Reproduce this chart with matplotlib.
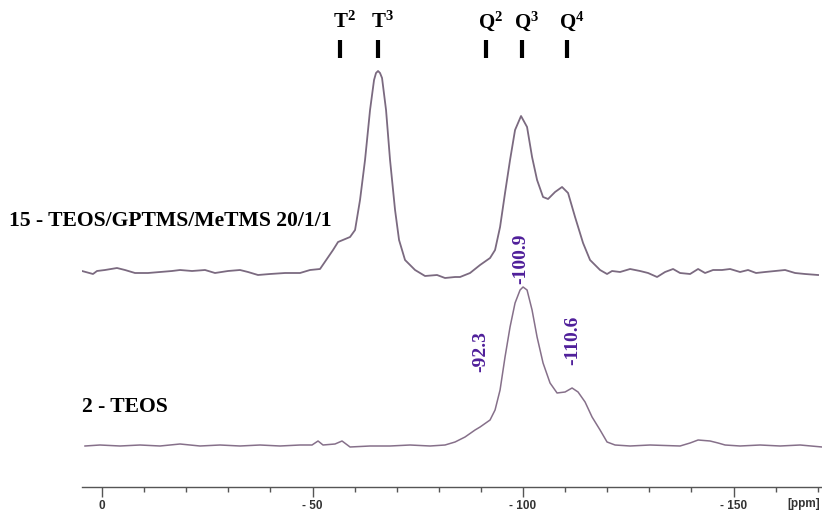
import matplotlib
matplotlib.use("Agg")
import matplotlib.pyplot as plt
import numpy as np

plt.rcParams["mathtext.fontset"] = "custom"
plt.rcParams["mathtext.rm"] = "Liberation Serif:bold"
plt.rcParams["mathtext.bf"] = "Liberation Serif:bold"
plt.rcParams["mathtext.it"] = "Liberation Serif:bold"

# ── data (29Si shift in ppm, intensity in a.u. above each baseline) ──
top_ppm = [4.75, 2.14, 1.19, -0.71, -3.56, -5.46, -7.84, -10.93, -13.78, -16.63, -18.53, -21.38,
           -24.47, -26.84, -29.93, -32.78, -34.68, -37.05, -39.90, -43.47, -47.03, -49.41, -51.78,
           -54.87, -56.06, -58.91, -60.10, -61.28, -62.47, -63.66, -64.61, -65.08, -65.56, -66.03,
           -66.51, -67.46, -68.41, -69.60, -70.55, -71.97, -74.35, -76.72, -79.57, -81.47, -83.85,
           -85.04, -87.41, -89.79, -92.16, -93.35, -94.54, -95.72, -96.91, -98.10, -99.52, -100.95,
           -102.14, -103.33, -104.75, -105.94, -107.60, -109.26, -110.69, -112.35, -114.25, -115.91,
           -118.29, -119.95, -121.14, -123.04, -125.42, -127.79, -129.69, -131.83, -133.73, -135.63,
           -137.29, -139.67, -141.57, -143.23, -145.13, -147.27, -149.17, -151.54, -153.44, -155.34,
           -157.48, -159.86, -162.23, -164.61, -166.98, -170.07]
top_int = [1, -2, 1, 2, 4, 2, -1, -1, 0, 1, 2, 1,
           2, -1, 1, 2, 0, -3, -2, -1, -1, 2, 3,
           22, 30, 35, 42, 72, 112, 162, 192, 199, 201, 199,
           194, 162, 112, 62, 32, 12, 2, -4, -3, -6, -5,
           -5, -1, 7, 14, 22, 45, 79, 112, 142, 156, 145,
           115, 92, 75, 73, 80, 85, 79, 55, 29, 12,
           2, -2, 1, 0, 3, 1, -1, -5, 0, 3,
           -1, -2, 3, -1, 2, 2, 3, 0, 2, -1,
           0, 1, 2, -1, -2, -3]

bot_ppm = [4.04, 0.48, -4.28, -9.03, -13.78, -18.53, -23.28, -28.03, -32.78, -37.53, -42.28, -47.03,
           -49.88, -51.31, -52.49, -55.34, -57.01, -58.91, -63.66, -68.41, -73.16, -77.91, -81.47,
           -83.85, -86.22, -88.60, -89.79, -92.16, -93.35, -94.54, -95.72, -96.91, -98.10, -99.29,
           -100.00, -100.95, -102.14, -103.33, -104.75, -106.41, -108.08, -109.98, -111.64, -113.06,
           -114.73, -116.39, -118.29, -119.95, -121.85, -125.42, -130.17, -137.29, -139.67, -141.57,
           -144.42, -146.32, -147.98, -151.54, -156.29, -161.05, -165.80, -171.02]
bot_int = [0, 1, 0, 1, 0, 2, 0, 1, 0, 1, 0, 1,
           1, 5, 1, 2, 5, -1, 0, 0, 1, 0, 1,
           4, 9, 16, 19, 26, 36, 56, 89, 119, 143, 156,
           159, 156, 136, 109, 83, 63, 53, 54, 58, 54,
           44, 29, 16, 4, 1, 0, 1, 0, 3, 6,
           5, 3, 1, 0, 1, 0, 1, -1]

site_labels = ["T$^{2}$", "T$^{3}$", "Q$^{2}$", "Q$^{3}$", "Q$^{4}$"]
site_ppm = [-56.5, -65.6, -91.2, -99.8, -110.5]

peak_labels = ["-100.9", "-92.3", "-110.6"]
peak_ppm = [-99.5, -90.0, -111.9]
peak_y = [228, 135, 147]

tick_pos = [0, -50, -100, -150]
tick_txt = ["0", "- 50", "- 100", "- 150"]

TOP_OFF, BOT_OFF = 215, 41
LINE_C = "#7b6a80"
PURPLE = "#4f1f9a"

fig = plt.figure(figsize=(8.22, 5.11), dpi=100)
ax = fig.add_axes([82 / 822, 24 / 511, 740 / 822, 487 / 511])

ax.plot(top_ppm, np.array(top_int) + TOP_OFF, color=LINE_C, lw=1.3)
ax.plot(bot_ppm, np.array(bot_int) + BOT_OFF, color="#86708a", lw=1.1)

# site markers
ax.vlines(site_ppm, 429, 447, color="black", lw=3)
for lab, p in zip(site_labels, site_ppm):
    ax.text(p - 1.0, 459, lab, ha="center", va="baseline", fontsize=15,
            family="Liberation Serif", weight="bold", color="black")

for lab, p, y in zip(peak_labels, peak_ppm, peak_y):
    ax.text(p, y, lab, rotation=90, ha="center", va="center", fontsize=14,
            family="Liberation Serif", weight="bold", color=PURPLE)

fig.text(9 / 822, 1 - 226 / 511, "15 - TEOS/GPTMS/MeTMS 20/1/1", fontsize=15.6,
         family="Liberation Serif", weight="bold", va="baseline")
fig.text(82 / 822, 1 - 412 / 511, "2 - TEOS", fontsize=15.6,
         family="Liberation Serif", weight="bold", va="baseline")
fig.text(820 / 822, 1 - 504 / 511, "[ppm]", fontsize=8.5, family="Liberation Sans",
         weight="bold", ha="right", va="center", color="#333333")

ax.set_xlim(4.75, -171.0)
ax.set_ylim(0, 487)
for s in ("top", "left", "right"):
    ax.spines[s].set_visible(False)
ax.spines["bottom"].set_color("#555555")
ax.spines["bottom"].set_linewidth(1.0)
ax.set_yticks([])
ax.set_xticks(tick_pos)
ax.set_xticklabels(tick_txt, fontsize=8.5, family="Liberation Sans", weight="bold", color="#333333")
ax.set_xticks(np.arange(0, -171, -10), minor=True)
ax.tick_params(axis="x", which="major", length=7, width=1, color="#555555", pad=2)
ax.tick_params(axis="x", which="minor", length=3.5, width=1, color="#555555")

fig.savefig("out.png", dpi=100)
